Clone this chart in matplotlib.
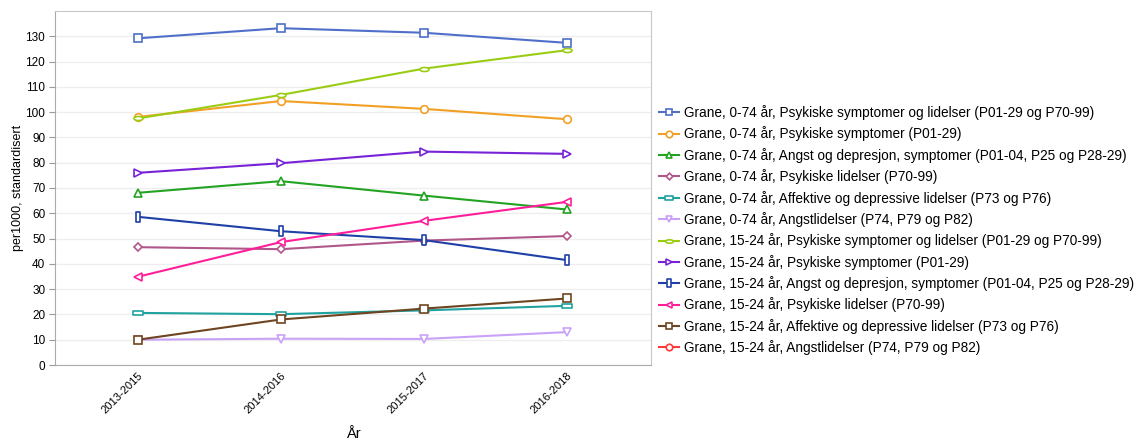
import matplotlib
matplotlib.use("Agg")
import matplotlib.pyplot as plt
import numpy as np
from matplotlib.path import Path

plt.rcParams['font.family'] = ['Liberation Sans', 'DejaVu Sans']

years = ["2013-2015", "2014-2016", "2015-2017", "2016-2018"]

labels = [
    "Grane, 0-74 år, Psykiske symptomer og lidelser (P01-29 og P70-99)",
    "Grane, 0-74 år, Psykiske symptomer (P01-29)",
    "Grane, 0-74 år, Angst og depresjon, symptomer (P01-04, P25 og P28-29)",
    "Grane, 0-74 år, Psykiske lidelser (P70-99)",
    "Grane, 0-74 år, Affektive og depressive lidelser (P73 og P76)",
    "Grane, 0-74 år, Angstlidelser (P74, P79 og P82)",
    "Grane, 15-24 år, Psykiske symptomer og lidelser (P01-29 og P70-99)",
    "Grane, 15-24 år, Psykiske symptomer (P01-29)",
    "Grane, 15-24 år, Angst og depresjon, symptomer (P01-04, P25 og P28-29)",
    "Grane, 15-24 år, Psykiske lidelser (P70-99)",
    "Grane, 15-24 år, Affektive og depressive lidelser (P73 og P76)",
    "Grane, 15-24 år, Angstlidelser (P74, P79 og P82)",
]

s1 = [129.2, 133.2, 131.4, 127.4]
s2 = [98.1, 104.4, 101.3, 97.2]
s3 = [68.1, 72.7, 67.0, 61.5]
s4 = [46.6, 45.8, 49.2, 51.0]
s5 = [20.6, 20.1, 21.6, 23.4]
s6 = [10.0, 10.4, 10.3, 13.0]
s7 = [97.5, 106.8, 117.2, 124.5]
s8 = [76.0, 79.8, 84.4, 83.5]
s9 = [58.6, 52.9, 49.4, 41.5]
s10 = [34.9, 48.6, 57.0, 64.5]
s11 = [10.0, 18.0, 22.3, 26.3]
s12 = [np.nan, np.nan, np.nan, np.nan]

series = [s1, s2, s3, s4, s5, s6, s7, s8, s9, s10, s11, s12]

colors = ["#4F6FCA", "#F2A025", "#22A322", "#B0578A", "#20A3A0", "#C9A2F8",
          "#9BCC14", "#7722D6", "#1F40A8", "#FF1E9A", "#6E4520", "#FF3A3A"]

# custom marker shapes
t = np.linspace(0, 2 * np.pi, 40)
ellipse = Path(np.column_stack([np.cos(t), 0.45 * np.sin(t)]), closed=True)
hrect = Path([(-1, -0.4), (1, -0.4), (1, 0.4), (-1, 0.4), (-1, -0.4)], closed=True)
vrect = Path([(-0.4, -1), (0.4, -1), (0.4, 1), (-0.4, 1), (-0.4, -1)], closed=True)

markers = ['s', 'o', '^', 'D', hrect, 'v', ellipse, '>', vrect, '<', 's', 'o']
msizes = [5.5, 5.5, 5.5, 4, 6.5, 5.5, 6.5, 5.5, 6.5, 5.5, 5.5, 5.5]

fig = plt.figure(figsize=(11.43, 4.43), dpi=100)
ax = fig.add_axes([55 / 1143, 1 - 365 / 443, (651 - 55) / 1143, (365 - 11) / 443])

x = np.arange(len(years))
handles = []
for ys, c, m, ms, lab in zip(series, colors, markers, msizes, labels):
    h, = ax.plot(x, ys, color=c, lw=1.5, marker=m, markersize=ms,
                 markerfacecolor='white', markeredgecolor=c, markeredgewidth=1.2,
                 label=lab)
    handles.append(h)

ax.set_xlim(-0.58, 3.59)
ax.set_ylim(0, 140)
ax.set_yticks(np.arange(0, 131, 10))
ax.set_xticks(x)
ax.set_xticklabels(years, rotation=45, ha='right', va='top', rotation_mode='anchor', fontsize=8)
ax.tick_params(axis='y', labelsize=8.5, length=4, color='#999999', pad=3)
ax.tick_params(axis='x', length=0, pad=4)
ax.yaxis.grid(True, color='#EEEEEE', lw=0.9)
ax.set_axisbelow(True)
for sp in ax.spines.values():
    sp.set_color('#C8C8C8')
ax.spines['left'].set_color('#AAAAAA')
ax.spines['bottom'].set_color('#AAAAAA')

ax.set_ylabel("per1000, standardisert", fontsize=9, labelpad=1)
ax.set_xlabel("År", fontsize=10.5, labelpad=8)

fig.legend(handles=handles, loc='upper left', bbox_to_anchor=(659 / 1143, 1 - 105 / 443),
           frameon=False, fontsize=9.8, handlelength=1.5, handletextpad=0.3,
           labelspacing=0.47, borderaxespad=0, borderpad=0, markerscale=0.85)

fig.savefig("out.png", dpi=100)
